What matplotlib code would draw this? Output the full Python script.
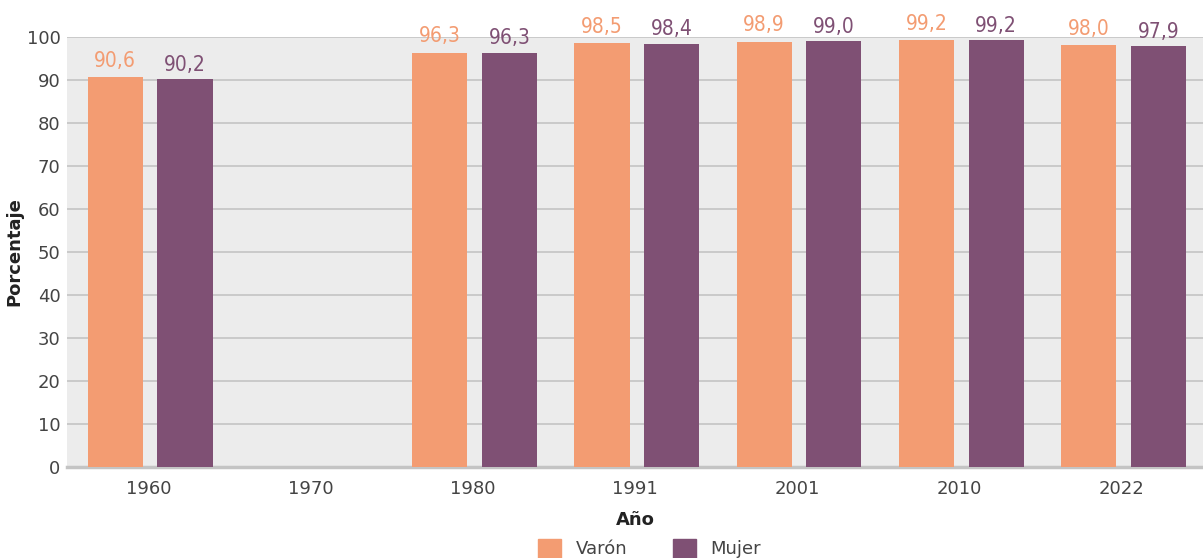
import matplotlib.pyplot as plt
import numpy as np

# data
years = ["1960", "1970", "1980", "1991", "2001", "2010", "2022"]
varon = [90.6, None, 96.3, 98.5, 98.9, 99.2, 98.0]
mujer = [90.2, None, 96.3, 98.4, 99.0, 99.2, 97.9]

c_varon = "#F39C72"
c_mujer = "#7F5074"

fig = plt.figure(figsize=(12.03, 5.58), dpi=100)
ax = fig.add_axes([0.056, 0.163, 0.944, 0.771])
ax.set_facecolor("#ececec")

x = np.arange(len(years))
w = 0.34
label_font = dict(family="DejaVu Sans", stretch="condensed", fontsize=15)

for i in range(len(years)):
    if varon[i] is not None:
        ax.bar(x[i] - 0.205, varon[i], w, color=c_varon, zorder=3)
        ax.text(x[i] - 0.205, varon[i] + 1.5, f"{varon[i]:.1f}".replace(".", ","),
                ha="center", va="bottom", color=c_varon, **label_font)
    if mujer[i] is not None:
        ax.bar(x[i] + 0.225, mujer[i], w, color=c_mujer, zorder=3)
        ax.text(x[i] + 0.225, mujer[i] + 1.0, f"{mujer[i]:.1f}".replace(".", ","),
                ha="center", va="bottom", color=c_mujer, **label_font)

ax.set_xlim(-0.5, len(years) - 0.5)
ax.set_ylim(0, 100)
ax.set_yticks(range(0, 101, 10))
ax.set_xticks(x)
ax.set_xticklabels(years)
ax.yaxis.grid(True, color="#c4c4c4", linewidth=1.2, zorder=0)
ax.set_axisbelow(True)
for s in ["top", "right", "left"]:
    ax.spines[s].set_visible(False)
ax.spines["bottom"].set_color("#c4c4c4")
ax.spines["bottom"].set_linewidth(2.5)
ax.tick_params(axis="both", length=0, labelsize=13, colors="#444444", pad=5)
ax.tick_params(axis="x", pad=9)

ax.set_xlabel("Año", fontsize=13, fontweight="bold", color="#222222", labelpad=10)
ax.set_ylabel("Porcentaje", fontsize=13, fontweight="bold", color="#222222", labelpad=2)

h1 = plt.Rectangle((0, 0), 1, 1, color=c_varon)
h2 = plt.Rectangle((0, 0), 1, 1, color=c_mujer)
fig.legend([h1, h2], ["Varón", "Mujer"], loc="lower center", bbox_to_anchor=(0.54, -0.03),
           ncol=2, frameon=False, fontsize=13, handlelength=1.3, handleheight=1.3,
           columnspacing=2.5, labelcolor="#444444")

fig.savefig("out.png", dpi=100)
